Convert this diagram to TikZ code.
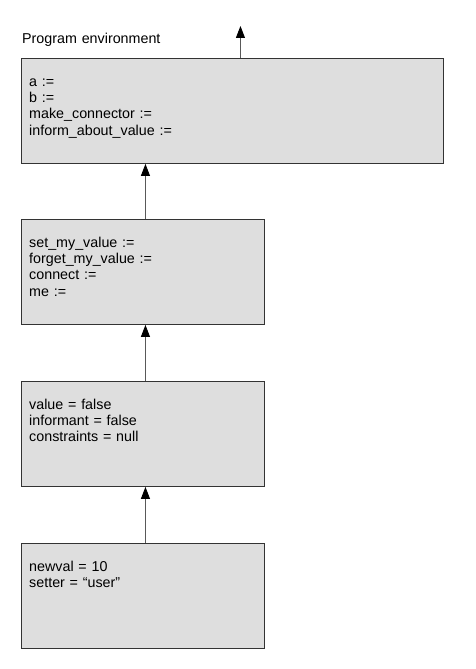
\documentclass[tikz,border=0pt]{standalone}
\usepackage{fontspec}
\setmainfont{Liberation Sans}
\usetikzlibrary{positioning,arrows.meta}
\begin{document}
\begin{tikzpicture}[x=1pt,y=-1pt,
	frame/.style={draw=black!80,fill=black!13,line width=.9pt,minimum height=105pt,inner sep=0pt,anchor=north west},
	lines/.style={anchor=base west,align=left,text width=400pt,inner sep=0pt,font=\fontsize{14.3}{16.4}\selectfont},
	up/.style={draw=black!65,line width=.9pt,-{Triangle[length=12pt,width=9pt,color=black]}}]
	\useasboundingbox (0,0) rectangle (475,669);
	
	\node[frame,minimum width=422pt] (env) at (21,58) {};
	\node[frame,minimum width=243pt] (procs) at (21,219) {};
	\node[frame,minimum width=243pt] (vals) at (21,381) {};
	\node[frame,minimum width=243pt] (args) at (21,543) {};
	
	\node[lines] (title) at ([shift={(1pt,14pt)}]env.north west) {Program environment};
	\node[lines] (envtext) at ([shift={(8pt,-28pt)}]env.north west) {a :=\\ b :=\\ make\_connector :=\\ inform\_about\_value :=};
	\node[lines] (procstext) at ([shift={(8pt,-28pt)}]procs.north west) {set\_my\_value :=\\ forget\_my\_value :=\\ connect :=\\ me :=};
	\node[lines] (valstext) at ([shift={(8pt,-28pt)}]vals.north west) {value = false\\ informant = false\\ constraints = null};
	\node[lines] (argstext) at ([shift={(8pt,-28pt)}]args.north west) {newval = 10\\ setter = “user”};
	
	\coordinate[above=32pt of env.north,xshift=8pt] (outer);
	\draw[up] (env.north -| outer) -- (outer);
	\draw[up] ([xshift=2.5pt]procs.north) -- ([xshift=2.5pt]procs.north |- env.south);
	\draw[up] ([xshift=2.5pt]vals.north) -- ([xshift=2.5pt]vals.north |- procs.south);
	\draw[up] ([xshift=2.5pt]args.north) -- ([xshift=2.5pt]args.north |- vals.south);
\end{tikzpicture}
\end{document}
